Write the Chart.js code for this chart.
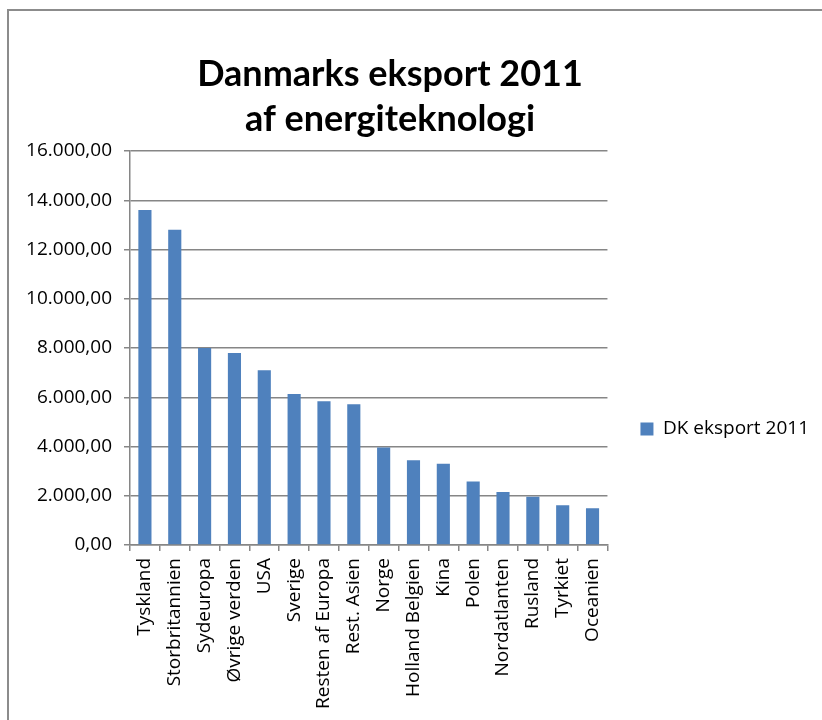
<!DOCTYPE html>
<html>
<head>
<meta charset="utf-8">
<title>Danmarks eksport 2011 af energiteknologi</title>
<script src="https://cdn.jsdelivr.net/npm/chart.js@4.4.1/dist/chart.umd.min.js"></script>
<style>
    body { margin: 0; background: #fff; overflow: hidden; }
    #wrap { position: relative; width: 822px; height: 720px; }
    #frame { position: absolute; left: 7px; top: 9px; right: -10px; bottom: -10px; border-left: 2px solid #8c8c8c; border-top: 2px solid #8c8c8c; }
    canvas { position: absolute; left: 0; top: 0; }
</style>
</head>
<body>
<div id="wrap">
    <div id="frame"></div>
    <canvas id="export-chart" width="822" height="720"></canvas>
</div>
<script>
// data
const countries = ['Tyskland', 'Storbritannien', 'Sydeuropa', 'Øvrige verden', 'USA', 'Sverige',
    'Resten af Europa', 'Rest. Asien', 'Norge', 'Holland Belgien', 'Kina', 'Polen',
    'Nordatlanten', 'Rusland', 'Tyrkiet', 'Oceanien'];
const exportValues = [13600, 12800, 8000, 7800, 7100, 6130, 5840, 5720, 3960, 3440, 3300, 2580, 2150, 1960, 1610, 1490];
const seriesName = 'DK eksport 2011';
const titleLines = ['Danmarks eksport 2011', 'af energiteknologi'];
const yMax = 16000;
const yStep = 2000;

// danish number format: 16.000,00
function formatDK(v) {
    const parts = v.toFixed(2).split('.');
    const whole = parts[0].replace(/\B(?=(\d{3})+(?!\d))/g, '.');
    return whole + ',' + parts[1];
}

const axisGray = '#868686';
const textFont = '"Open Sans", Lato, sans-serif';
const titleFont = 'Lato, "Open Sans", sans-serif';

// excel puts the title a bit left of the canvas middle and the legend lower down
const nudge = {
    id: 'nudge',
    afterLayout(chart) {
        chart.titleBlock.right -= 16;
        const lg = chart.legend;
        lg.top += 69;
        lg.bottom += 69;
        lg.left += 23;
        lg.right += 23;
    }
};

const ctx = document.getElementById('export-chart').getContext('2d');
const exportChart = new Chart(ctx, {
    type: 'bar',
    data: {
        labels: countries,
        datasets: [{
            label: seriesName,
            data: exportValues,
            backgroundColor: '#4f81bd',
            borderWidth: 0,
            categoryPercentage: 1,
            barPercentage: 0.44
        }]
    },
    options: {
        responsive: false,
        animation: false,
        layout: {
            padding: { left: 0, right: 26, top: 0, bottom: 0 }
        },
        scales: {
            x: {
                afterFit: function (scale) {
                    scale.height = 175;
                },
                grid: {
                    offset: true,
                    drawOnChartArea: false,
                    drawTicks: true,
                    tickLength: 6,
                    color: axisGray,
                    lineWidth: 1.5
                },
                border: { color: axisGray, width: 1.5 },
                ticks: {
                    minRotation: 90,
                    maxRotation: 90,
                    autoSkip: false,
                    padding: 7,
                    color: '#000',
                    font: { family: textFont, size: 19 }
                }
            },
            y: {
                min: 0,
                max: yMax,
                afterFit: function (scale) {
                    scale.width = 130;
                },
                grid: {
                    color: axisGray,
                    lineWidth: 1.5,
                    tickLength: 6
                },
                border: { color: axisGray, width: 1.5 },
                ticks: {
                    stepSize: yStep,
                    padding: 12,
                    color: '#000',
                    font: { family: textFont, size: 19 },
                    callback: function (value) {
                        return formatDK(value);
                    }
                }
            }
        },
        plugins: {
            title: {
                display: true,
                text: titleLines,
                color: '#000',
                font: { family: titleFont, size: 36, weight: 'bold', lineHeight: 1.25 },
                padding: { top: 52, bottom: 9 }
            },
            legend: {
                position: 'right',
                labels: {
                    boxWidth: 13,
                    boxHeight: 13,
                    padding: 10,
                    color: '#000',
                    font: { family: textFont, size: 19 }
                }
            },
            tooltip: { enabled: false }
        }
    },
    plugins: [nudge]
});
</script>
</body>
</html>
